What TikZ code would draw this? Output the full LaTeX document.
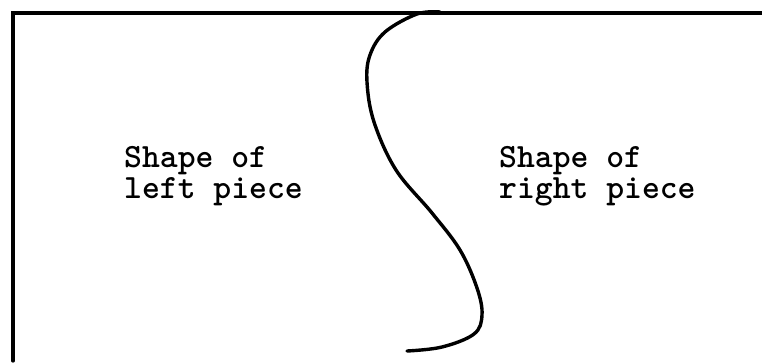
\documentclass[tikz,border=0pt]{standalone}
\begin{document}
\begin{tikzpicture}[x=1pt,y=-1pt,
  frame/.style={line width=3.2pt,line cap=round,line join=miter},
  cut/.style={line width=3.4pt,line cap=round},
  label/.style={inner sep=0pt,align=left,anchor=north west,
    font=\ttfamily\bfseries\fontsize{34}{31}\selectfont}]
\useasboundingbox (0,0) rectangle (762,362);
\draw[frame] (13,361) -- (13,13) -- (762,13);
\draw[cut] plot[smooth,tension=0.6] coordinates {
  (440,12) (417,14) (385,32) (370,55) (367,82) (374,122) (396,170)
  (432,213) (460,250) (477,288) (482,315) (474,334) (442,347) (407,351)};
\node[label] (left) at (124,146) {Shape of\\left piece};
\node[label] (right) at (499,146) {Shape of\\right piece};
\end{tikzpicture}
\end{document}
